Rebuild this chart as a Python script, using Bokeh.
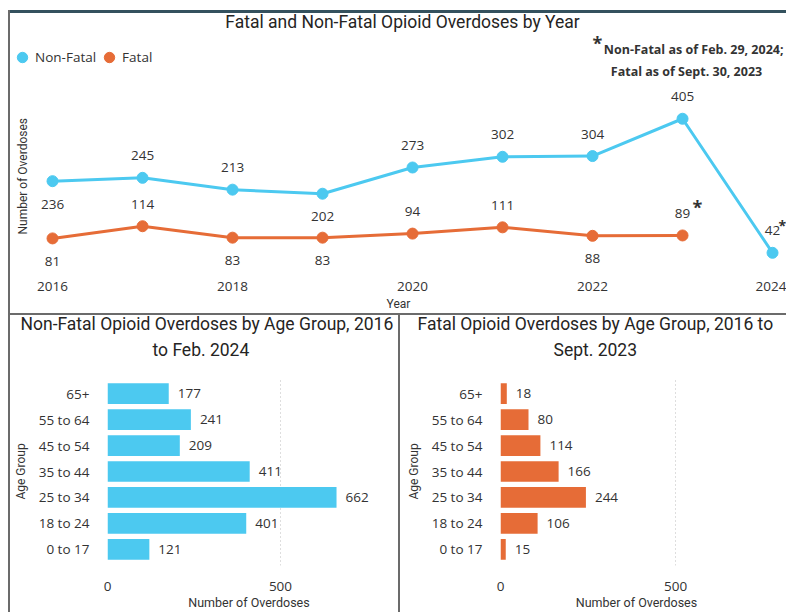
import math
from bokeh.plotting import figure
from bokeh.models import (ColumnDataSource, LabelSet, Label, Legend, LegendItem,
                          FixedTicker, FactorRange, Range1d, Div, Title)
from bokeh.layouts import row, column
from bokeh.core.properties import value
from bokeh.embed import file_html
from bokeh.resources import INLINE

# ---------------- data ----------------
years = [2016, 2017, 2018, 2019, 2020, 2021, 2022, 2023, 2024]
nonfatal_by_year = [236, 245, 213, 202, 273, 302, 304, 405, 42]
fatal_years = [2016, 2017, 2018, 2019, 2020, 2021, 2022, 2023]
fatal_by_year = [81, 114, 83, 83, 94, 111, 88, 89]
year_ticks = [2016, 2018, 2020, 2022, 2024]

age_groups = ["0 to 17", "18 to 24", "25 to 34", "35 to 44", "45 to 54", "55 to 64", "65+"]
nonfatal_by_age = [121, 401, 662, 411, 209, 241, 177]
fatal_by_age = [15, 106, 244, 166, 114, 80, 18]
bar_ticks = [0, 500]

# data-label placement (style only)
nonfatal_label_side = ["below", "above", "above", "below", "above", "above", "above", "above", "above"]
fatal_label_side = ["below", "above", "below", "below", "above", "above", "below", "above"]

# ---------------- style ----------------
CYAN = "#4CC9F0"
ORANGE = "#E66C37"
TEXT = "#333333"
TITLE_C = "#252423"
BODY_FONT = "Open Sans"
TITLE_FONT = "Roboto"
LBL_SIZE = "13.5px"
TITLE_SIZE = "17.5px"
GRAY_BORDER = "#6b6b6b"

# page geometry (the page itself has no margin, so leave 8px / 10px of white)
PAGE_W = 786
TOP_W, TOP_H = 776, 300
TOP_MB = 40
T_FRAME_H = TOP_H - TOP_MB
T_PAGE_LEFT, T_PAGE_TOP = 10, 13

# ---------------- top line chart ----------------
T_X0 = 2015.533
T_X1 = T_X0 + TOP_W / 90.0
T_Y0, T_Y1 = -8.6, 690.0

top = figure(width=TOP_W, height=TOP_H, output_backend="svg", toolbar_location=None,
             x_range=Range1d(T_X0, T_X1), y_range=Range1d(T_Y0, T_Y1),
             min_border_left=0, min_border_right=0, min_border_top=0, min_border_bottom=TOP_MB)
top.outline_line_color = None
top.grid.visible = False
top.yaxis.visible = False

xa = top.xaxis[0]
xa.ticker = FixedTicker(ticks=year_ticks)
xa.axis_line_color = None
xa.major_tick_line_color = None
xa.minor_tick_line_color = None
xa.major_label_text_font = BODY_FONT
xa.major_label_text_font_size = LBL_SIZE
xa.major_label_text_color = TEXT
xa.major_label_standoff = 4
xa.axis_label = "Year"
xa.axis_label_text_font = TITLE_FONT
xa.axis_label_text_font_size = "12px"
xa.axis_label_text_font_style = "normal"
xa.axis_label_text_color = TEXT
xa.axis_label_standoff = 3


def top_xy(px, py):
    x = T_X0 + (px - T_PAGE_LEFT) / TOP_W * (T_X1 - T_X0)
    y = T_Y0 + (T_PAGE_TOP + T_FRAME_H - py) / T_FRAME_H * (T_Y1 - T_Y0)
    return x, y


nf_src = ColumnDataSource(dict(
    x=years, y=nonfatal_by_year, lbl=[str(v) for v in nonfatal_by_year],
    off=[22 if s == "above" else -23 for s in nonfatal_label_side]))
f_src = ColumnDataSource(dict(
    x=fatal_years, y=fatal_by_year, lbl=[str(v) for v in fatal_by_year],
    off=[22 if s == "above" else -23 for s in fatal_label_side]))

top.line("x", "y", source=nf_src, line_color=CYAN, line_width=3)
nf_pts = top.scatter("x", "y", source=nf_src, size=11, fill_color=CYAN, line_color=CYAN)
top.line("x", "y", source=f_src, line_color=ORANGE, line_width=3)
f_pts = top.scatter("x", "y", source=f_src, size=11, fill_color=ORANGE, line_color=ORANGE)

for src in (nf_src, f_src):
    top.add_layout(LabelSet(x="x", y="y", text="lbl", y_offset="off", source=src,
                            text_align="center", text_baseline="middle",
                            text_font=value(BODY_FONT), text_font_size=value(LBL_SIZE),
                            text_color=TEXT))

legend = Legend(items=[LegendItem(label="Non-Fatal", renderers=[nf_pts]),
                       LegendItem(label="Fatal", renderers=[f_pts])],
                location=(-1, 201), orientation="horizontal",
                glyph_width=26, glyph_height=26, label_standoff=-4, spacing=0,
                padding=0, margin=0, label_text_font=BODY_FONT,
                label_text_font_size=LBL_SIZE, label_text_color=TEXT,
                background_fill_alpha=0, border_line_color=None)
top.add_layout(legend)

x, y = top_xy(402, 22)
top.add_layout(Label(x=x, y=y, text="Fatal and Non-Fatal Opioid Overdoses by Year",
                     text_align="center", text_baseline="middle", text_font=TITLE_FONT,
                     text_font_size=TITLE_SIZE, text_color=TITLE_C))
x, y = top_xy(22, 177)
top.add_layout(Label(x=x, y=y, text="Number of Overdoses", angle=math.pi / 2,
                     text_align="center", text_baseline="middle", text_font=TITLE_FONT,
                     text_font_size="12px", text_color=TEXT))
x, y = top_xy(597, 43)
top.add_layout(Label(x=x, y=y, text="*", text_align="center", text_baseline="middle",
                     text_font=BODY_FONT, text_font_size="18px", text_font_style="bold",
                     text_color=TEXT))
x, y = top_xy(783, 49)
top.add_layout(Label(x=x, y=y, text="Non-Fatal as of Feb. 29, 2024;", text_align="right",
                     text_baseline="middle", text_font=BODY_FONT, text_font_size="12.5px",
                     text_font_style="bold", text_color=TEXT))
x, y = top_xy(686, 71)
top.add_layout(Label(x=x, y=y, text="Fatal as of Sept. 30, 2023", text_align="center",
                     text_baseline="middle", text_font=BODY_FONT, text_font_size="12.5px",
                     text_font_style="bold", text_color=TEXT))
for px, py, fs, al in ((697, 208, "18px", "center"), (778, 227, "14px", "left")):
    x, y = top_xy(px, py)
    top.add_layout(Label(x=x, y=y, text="*", text_align=al,
                         text_baseline="middle", text_font=BODY_FONT, text_font_size=fs,
                         text_font_style="bold", text_color=TEXT))

# ---------------- bar charts ----------------
BAR_H = 297
BAR_MT, BAR_MB = 62, 44
PAD = 0.125
CHAR_W = 8.0  # rough title glyph width at TITLE_SIZE, used to centre the titles


def bar_chart(width, mleft, mright, x_end, values, color, title1, title2, page_left, title_cx):
    p = figure(width=width, height=BAR_H, output_backend="svg", toolbar_location=None,
               y_range=FactorRange(factors=age_groups, range_padding=PAD,
                                   range_padding_units="absolute"),
               x_range=Range1d(0, x_end),
               min_border_left=mleft, min_border_right=mright,
               min_border_top=BAR_MT, min_border_bottom=BAR_MB)
    p.outline_line_color = None
    p.ygrid.visible = False
    p.xgrid.ticker = FixedTicker(ticks=bar_ticks)
    p.xgrid.grid_line_color = "#BDBDBD"
    p.xgrid.grid_line_dash = "1 3"
    p.xgrid.grid_line_width = 1

    src = ColumnDataSource(dict(age=age_groups, val=values, lbl=[str(v) for v in values]))
    p.hbar(y="age", left=0, right="val", height=0.8, source=src,
           fill_color=color, line_color=None)
    p.add_layout(LabelSet(x="val", y="age", text="lbl", source=src, x_offset=9,
                          text_align="left", text_baseline="middle",
                          text_font=value(BODY_FONT), text_font_size=value(LBL_SIZE),
                          text_color=TEXT))

    ax = p.xaxis[0]
    ax.ticker = FixedTicker(ticks=bar_ticks)
    ax.axis_line_color = None
    ax.major_tick_line_color = None
    ax.minor_tick_line_color = None
    ax.major_label_text_font = BODY_FONT
    ax.major_label_text_font_size = LBL_SIZE
    ax.major_label_text_color = TEXT
    ax.major_label_standoff = 10
    ax.axis_label = "Number of Overdoses"
    ax.axis_label_text_font = TITLE_FONT
    ax.axis_label_text_font_size = "12.5px"
    ax.axis_label_text_font_style = "normal"
    ax.axis_label_text_color = TEXT
    ax.axis_label_standoff = 1

    ay = p.yaxis[0]
    ay.axis_line_color = None
    ay.major_tick_line_color = None
    ay.minor_tick_line_color = None
    ay.major_label_text_font = BODY_FONT
    ay.major_label_text_font_size = LBL_SIZE
    ay.major_label_text_color = TEXT
    ay.major_label_standoff = 12
    ay.axis_label = "Age Group"
    ay.axis_label_text_font = TITLE_FONT
    ay.axis_label_text_font_size = "12px"
    ay.axis_label_text_font_style = "normal"
    ay.axis_label_text_color = TEXT
    ay.axis_label_standoff = 8

    frame_left_page = page_left + mleft
    # second title line sits nearest the frame, first line above it
    for txt, standoff, valign in ((title2, 32, "top"), (title1, -39, "middle")):
        est_w = len(txt) * CHAR_W
        off = title_cx - est_w / 2 - frame_left_page - 5
        p.add_layout(Title(text=txt, align="left", offset=off, standoff=standoff,
                           vertical_align=valign,
                           text_font=TITLE_FONT, text_font_size=TITLE_SIZE,
                           text_font_style="normal", text_color=TITLE_C), "above")
    return p


left = bar_chart(388, 97, 8, 818, nonfatal_by_age, CYAN,
                 "Non-Fatal Opioid Overdoses by Age Group, 2016", "to Feb. 2024", 10, 205)
right = bar_chart(386, 100, 14, 777, fatal_by_age, ORANGE,
                  "Fatal Opioid Overdoses by Age Group, 2016 to", "Sept. 2023", 400, 598)

# ---------------- borders & layout ----------------
def bar_div(w, h, color):
    return Div(width=w, height=h, margin=0, styles={"background-color": color})


MAIN_H = 3 + TOP_H + 2 + BAR_H
main = column(bar_div(TOP_W, 3, "#34515e"), top, bar_div(TOP_W, 2, GRAY_BORDER),
              row(left, bar_div(2, BAR_H, GRAY_BORDER), right, spacing=0), spacing=0)
content = row(bar_div(8, MAIN_H, "white"), bar_div(2, MAIN_H, GRAY_BORDER), main, spacing=0)
page = column(bar_div(PAGE_W, 10, "white"), content, spacing=0)

open("out.html", "w").write(file_html(page, INLINE))
